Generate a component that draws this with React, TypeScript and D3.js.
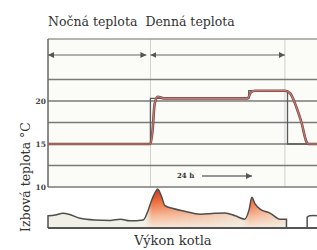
import React from "react";
import * as d3 from "d3";

// ---- data ----
const periodLabels = ["Nočná teplota", "Denná teplota"];
const periodBounds = [0, 9.9, 22.9]; // hours: night start, day start, day end
const gridTemps = [10, 12.5, 15, 17.5, 20, 22.5];
const tickTemps = [20, 15, 10];

const tempTimes = [0, 9.9, 10.1, 10.3, 10.6, 11.2, 19.3, 19.6, 20.0, 22.9, 23.4, 24.0, 24.5, 25.0, 25.2, 26];
const tempValues = [15, 15, 16.5, 19.6, 20.5, 20.3, 20.3, 21.0, 21.2, 21.2, 20.9, 19.3, 17.5, 15.2, 15.0, 15.0];

const setTimes = [0, 9.9, 19.4, 23.15, 26];
const setValues = [15, 20.3, 21.2, 15, 15];

const outTimes = [0, 0.7, 1.45, 2.1, 3.1, 4.5, 6.0, 7.0, 7.9, 9.2, 9.65, 10.0, 10.35, 10.6, 11.0, 11.3, 12.0, 13.2, 14.7, 16.1, 17.1, 18.1, 19.0, 19.45, 19.7, 20.0, 20.5, 21.5, 22.4, 23.05];
const outValues = [29, 31, 35, 32, 23, 19, 18, 21, 17, 19, 40, 65, 84, 93, 73, 53, 47, 40, 33, 35, 36, 29, 21, 45, 73, 58, 45, 35, 21, 21];
const outTimes2 = [25.05, 25.3, 25.7, 26];
const outValues2 = [26, 29, 30, 29];

const yLabel = "Izbová teplota °C";
const xLabel = "Výkon kotla";
const spanLabel = "24 h";

export default function App() {
  const W = 317, H = 250;
  const x = d3.scaleLinear().domain([0, 26]).range([48, 317]);
  const y = d3.scaleLinear().domain([10, 20]).range([187, 101]);
  const yo = d3.scaleLinear().domain([0, 100]).range([228, 186]);

  const tempData = tempTimes.map((t, i) => [t, tempValues[i]] as [number, number]);
  const setData = setTimes.map((t, i) => [t, setValues[i]] as [number, number]);
  const outData = outTimes.map((t, i) => [t, outValues[i]] as [number, number]);
  const outData2 = outTimes2.map((t, i) => [t, outValues2[i]] as [number, number]);

  const tempLine = d3.line<[number, number]>().x(d => x(d[0])).y(d => y(d[1])).curve(d3.curveMonotoneX);
  const setLine = d3.line<[number, number]>().x(d => x(d[0])).y(d => y(d[1])).curve(d3.curveStepAfter);
  const outLine = d3.line<[number, number]>().x(d => x(d[0])).y(d => yo(d[1])).curve(d3.curveMonotoneX);
  const outArea = d3.area<[number, number]>().x(d => x(d[0])).y0(yo(0)).y1(d => yo(d[1])).curve(d3.curveMonotoneX);

  const base = yo(0);
  const first = outData[0], last = outData[outData.length - 1];
  const outStroke = `M${x(first[0])},${base}` + outLine(outData)!.replace(/^M/, "L") + `L${x(last[0])},${base}`;
  const f2 = outData2[0];
  const outStroke2 = `M${x(f2[0])},${base}` + outLine(outData2)!.replace(/^M/, "L");

  const xNight = x(periodBounds[0]);
  const xDay = x(periodBounds[1]);
  const xEnd = x(periodBounds[2]);
  const topY = 39;
  const dimY = 55;
  const serif = "'DejaVu Serif', serif";

  return (
    <svg width={W} height={H} style={{ position: "absolute", left: 0, top: 0, background: "#fff" }}>
      <defs>
        <linearGradient id="heat" gradientUnits="userSpaceOnUse" x1="0" y1="188" x2="0" y2="228">
          <stop offset="0" stopColor="#c42e18" />
          <stop offset="0.35" stopColor="#ee6c3c" />
          <stop offset="0.7" stopColor="#f5b896" />
          <stop offset="1" stopColor="#f6e8dc" />
        </linearGradient>
        <linearGradient id="hmask" gradientUnits="userSpaceOnUse" x1="48" y1="0" x2="317" y2="0">
          <stop offset={(145 - 48) / 269} stopColor="#fff" stopOpacity="0" />
          <stop offset={(152 - 48) / 269} stopColor="#fff" stopOpacity="1" />
          <stop offset={(200 - 48) / 269} stopColor="#fff" stopOpacity="0.75" />
          <stop offset={(242 - 48) / 269} stopColor="#fff" stopOpacity="0.3" />
          <stop offset={(250 - 48) / 269} stopColor="#fff" stopOpacity="1" />
          <stop offset={(287 - 48) / 269} stopColor="#fff" stopOpacity="0.35" />
        </linearGradient>
        <mask id="m1">
          <rect x="0" y="0" width={W} height={H} fill="url(#hmask)" />
        </mask>
        <marker id="arrR" viewBox="0 0 6 6" refX="6" refY="3" markerWidth="5" markerHeight="5" orient="auto">
          <path d="M0,0L6,3L0,6z" fill="#555" />
        </marker>
        <marker id="arrL" viewBox="0 0 6 6" refX="0" refY="3" markerWidth="5" markerHeight="5" orient="auto">
          <path d="M6,0L0,3L6,6z" fill="#555" />
        </marker>
      </defs>

      {/* titles */}
      <text x={xNight} y={26} fontFamily={serif} fontSize={12.5} fill="#333">{periodLabels[0]}</text>
      <text x={xDay - 5} y={26} fontFamily={serif} fontSize={12.5} fill="#333">{periodLabels[1]}</text>

      {/* background */}
      <rect x={xNight} y={topY} width={317 - xNight} height={y(10) - topY} fill="#fbfcf8" />

      {/* light vertical lines */}
      <line x1={xDay} x2={xDay} y1={topY} y2={y(10)} stroke="#cfcfcf" strokeWidth={1} />
      <line x1={xEnd} x2={xEnd} y1={topY} y2={y(10)} stroke="#cfcfcf" strokeWidth={1} />

      {/* grid lines */}
      <line x1={xNight} x2={317} y1={topY} y2={topY} stroke="#9a9a9a" strokeWidth={1.3} />
      {gridTemps.map(t => (
        <line key={t} x1={xNight} x2={317} y1={y(t)} y2={y(t)} stroke="#7a7a7a" strokeWidth={1.5} />
      ))}
      <line x1={xNight} x2={xNight} y1={topY} y2={y(10)} stroke="#666" strokeWidth={1.5} />

      {/* dimension line */}
      <line x1={xNight} x2={xDay - 4} y1={dimY} y2={dimY} stroke="#666" strokeWidth={1.2} markerStart="url(#arrL)" markerEnd="url(#arrR)" />
      <line x1={xDay} x2={xEnd} y1={dimY} y2={dimY} stroke="#666" strokeWidth={1.2} markerStart="url(#arrL)" markerEnd="url(#arrR)" />

      {/* tick labels */}
      {tickTemps.map(t => (
        <text key={t} x={46} y={y(t) + 3} textAnchor="end" fontFamily={serif} fontSize={7.5} fontWeight="bold" fill="#444">{t}</text>
      ))}

      {/* temperature curves */}
      <path d={setLine(setData)!} fill="none" stroke="#5a5a5a" strokeWidth={1.3} />
      <path d={tempLine(tempData)!} fill="none" stroke="#7d4a44" strokeWidth={2.6} />
      <path d={tempLine(tempData)!} fill="none" stroke="#c27a72" strokeWidth={1.2} />

      {/* 24 h arrow */}
      <text x={177} y={178} fontFamily={serif} fontSize={7} fontWeight="bold" fill="#333">{spanLabel}</text>
      <line x1={202} x2={252} y1={176} y2={176} stroke="#333" strokeWidth={1.2} markerEnd="url(#arrR)" />

      {/* boiler output */}
      <path d={outArea(outData)!} fill="#f0f0e6" />
      <path d={outArea(outData)!} fill="url(#heat)" mask="url(#m1)" />
      <path d={outStroke} fill="none" stroke="#4e4e4e" strokeWidth={1.5} />
      <path d={outStroke2} fill="none" stroke="#4e4e4e" strokeWidth={1.5} />
      <line x1={xNight} x2={317} y1={base} y2={base} stroke="#555" strokeWidth={2.2} />

      {/* axis labels */}
      <text transform={`translate(26,177) rotate(-90)`} dy="0.35em" textAnchor="middle" fontFamily={serif} fontSize={12.5} fill="#333">{yLabel}</text>
      <text x={173} y={245} textAnchor="middle" fontFamily={serif} fontSize={13} fill="#333">{xLabel}</text>
    </svg>
  );
}
